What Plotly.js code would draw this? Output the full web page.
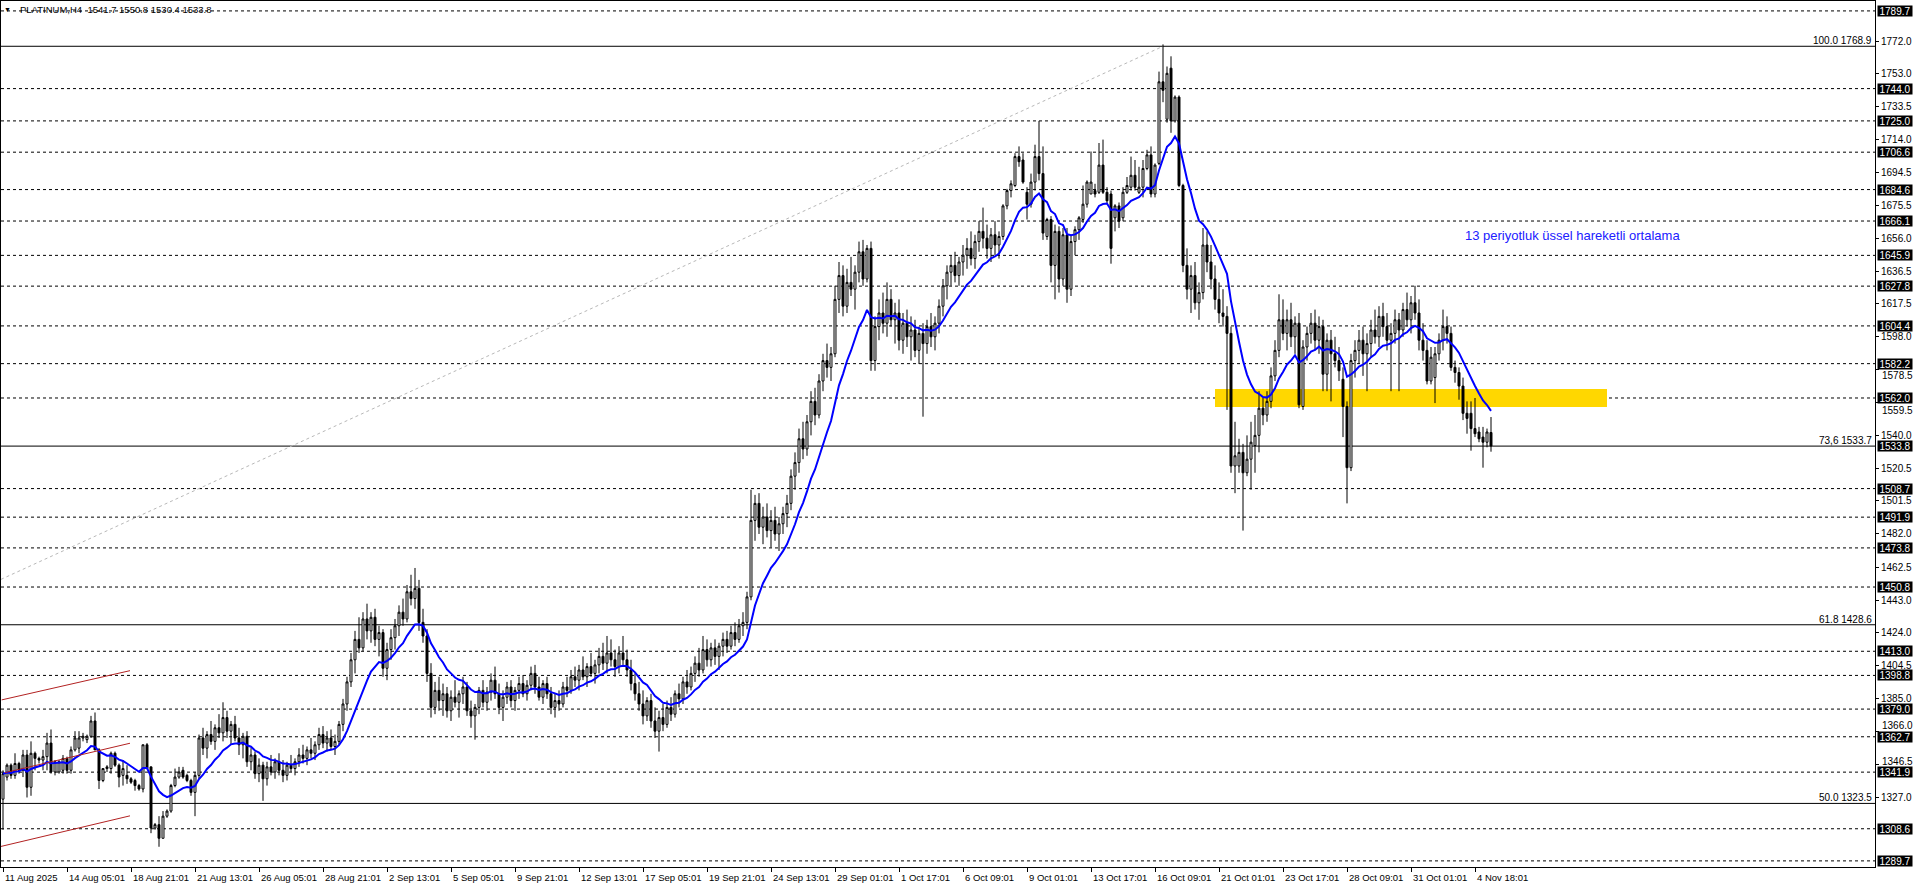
<!DOCTYPE html>
<html><head><meta charset="utf-8">
<script src="https://cdn.plot.ly/plotly-3.0.1.min.js"></script>
<style>html,body{margin:0;padding:0;background:#fff;overflow:hidden}#chart{width:1916px;height:888px}</style>
</head><body><div id="chart"></div>
<script>
// ---- candle data (PLATINUM, H4) ----
const opens=[1326,1339,1346,1340,1347,1343,1352,1333,1353,1350,1349,1351,1359,1342,1342,1343,1350,1343,1355,1356,1362,1361,1363,1372,1355,1337,1344,1344,1353,1346,1340,1340,1338,1337,1334,1332,1358,1345,1309,1311,1303,1316,1319,1334,1339,1343,1340,1337,1330,1340,
1362,1356,1364,1360,1368,1365,1374,1366,1370,1362,1358,1363,1348,1352,1341,1346,1338,1345,1342,1348,1343,1340,1346,1344,1348,1352,1350,1355,1353,1358,1364,1359,1362,1357,1360,1370,1382,1395,1408,1420,1415,1432,1425,1433,1420,1424,1403,1414,1421,1428,
1436,1432,1448,1444,1450,1430,1422,1400,1380,1390,1384,1388,1378,1386,1383,1388,1392,1378,1375,1380,1390,1383,1389,1396,1388,1380,1386,1392,1384,1390,1394,1388,1393,1400,1392,1386,1394,1388,1380,1384,1382,1392,1390,1398,1396,1402,1398,1404,1400,1405,
1410,1406,1412,1408,1404,1412,1408,1402,1394,1388,1382,1375,1384,1372,1366,1374,1370,1380,1376,1388,1385,1395,1392,1400,1406,1402,1414,1408,1415,1410,1416,1420,1416,1424,1420,1428,1430,1445,1490,1500,1486,1492,1484,1490,1482,1488,1494,1500,1516,1524,
1538,1532,1548,1560,1552,1572,1584,1580,1588,1620,1634,1616,1630,1626,1636,1648,1632,1650,1584,1604,1612,1606,1620,1608,1612,1596,1606,1598,1602,1590,1600,1594,1604,1598,1606,1616,1628,1636,1640,1634,1642,1646,1650,1644,1654,1660,1656,1650,1658,1652,
1657,1675,1684,1687,1704,1702,1683,1676,1689,1704,1694,1657,1667,1640,1660,1632,1658,1626,1654,1661,1667,1676,1682,1684,1683,1699,1683,1682,1668,1675,1668,1683,1686,1693,1683,1686,1697,1705,1682,1700,1748,1726,1756,1725,1739,1687,1640,1626,1634,1618,
1624,1652,1642,1632,1620,1612,1610,1600,1522,1522,1530,1518,1526,1534,1540,1556,1552,1560,1575,1590,1608,1600,1608,1598,1606,1557,1592,1600,1606,1596,1604,1576,1596,1588,1584,1573,1557,1521,1584,1590,1596,1588,1594,1602,1598,1610,1604,1596,1600,1608,
1602,1614,1608,1618,1612,1596,1590,1572,1574,1588,1596,1604,1600,1580,1577,1569,1553,1553,1544,1542,1539,1536,1541.7];
const highs=[1343,1347,1347,1353,1348,1355,1355,1360,1354,1351,1355,1365,1367,1349,1349,1352,1351,1357,1366,1366,1365,1364,1375,1377,1356,1344,1346,1354,1354,1347,1349,1346,1339,1338,1335,1358,1359,1345,1312,1316,1319,1320,1335,1344,1345,1345,1341,1338,1342,1364,
1368,1366,1372,1370,1376,1383,1378,1372,1375,1368,1365,1366,1356,1354,1350,1348,1348,1352,1350,1353,1349,1348,1352,1350,1356,1358,1357,1362,1360,1368,1369,1366,1367,1364,1372,1385,1398,1412,1425,1433,1436,1441,1436,1438,1428,1426,1418,1426,1432,1440,
1444,1452,1458,1462,1455,1438,1426,1406,1395,1398,1394,1392,1390,1396,1390,1398,1395,1384,1382,1392,1396,1392,1400,1404,1394,1390,1395,1396,1392,1398,1399,1396,1404,1405,1398,1396,1398,1392,1388,1390,1395,1398,1402,1404,1405,1410,1406,1412,1408,1415,
1418,1422,1420,1414,1416,1422,1414,1408,1400,1395,1390,1386,1388,1380,1378,1382,1384,1386,1390,1394,1398,1402,1404,1410,1415,1422,1420,1418,1420,1418,1424,1425,1428,1430,1432,1436,1448,1508,1505,1506,1498,1500,1496,1498,1492,1498,1505,1520,1530,1544,
1548,1552,1566,1568,1576,1588,1594,1592,1628,1642,1640,1638,1645,1640,1654,1655,1652,1654,1610,1620,1624,1630,1626,1618,1620,1612,1614,1610,1608,1604,1606,1608,1612,1610,1620,1632,1640,1646,1648,1645,1652,1656,1660,1658,1666,1674,1664,1662,1666,1660,
1676,1685,1690,1706,1710,1706,1686,1694,1711,1725,1710,1668,1669,1664,1663,1662,1662,1658,1663,1669,1687,1690,1707,1688,1712,1714,1686,1684,1676,1677,1686,1692,1704,1702,1698,1702,1708,1710,1700,1754,1770,1757,1763,1740,1740,1688,1650,1640,1642,1630,
1662,1660,1652,1640,1630,1626,1616,1604,1548,1538,1535,1540,1548,1552,1566,1562,1566,1580,1596,1623,1620,1614,1618,1610,1612,1596,1604,1612,1614,1610,1608,1600,1602,1598,1592,1580,1560,1588,1596,1602,1604,1600,1608,1614,1616,1618,1612,1606,1614,1612,
1618,1624,1622,1628,1620,1606,1596,1592,1592,1600,1614,1610,1604,1584,1580,1574,1560,1560,1562,1545,1545,1544,1550.8];
const lows=[1308,1337,1338,1338,1341,1339,1327,1328,1343,1347,1343,1343,1341,1340,1341,1341,1341,1341,1354,1353,1360,1359,1362,1355,1332,1336,1342,1341,1345,1333,1334,1335,1335,1331,1331,1330,1344,1306,1308,1298,1303,1315,1318,1333,1338,1338,1336,1328,1316,1338,
1352,1350,1358,1355,1362,1360,1362,1358,1360,1352,1350,1345,1343,1338,1336,1325,1334,1340,1338,1340,1336,1337,1342,1340,1345,1347,1346,1350,1349,1355,1356,1354,1355,1352,1358,1366,1378,1392,1400,1412,1413,1420,1418,1416,1410,1398,1396,1408,1414,1422,
1428,1430,1440,1438,1425,1418,1395,1374,1376,1378,1375,1374,1372,1380,1374,1382,1375,1368,1361,1376,1380,1378,1384,1385,1376,1372,1382,1380,1378,1385,1386,1384,1390,1388,1384,1382,1385,1376,1374,1378,1380,1386,1388,1392,1390,1396,1392,1398,1394,1400,
1402,1400,1404,1398,1400,1405,1398,1390,1384,1378,1370,1372,1368,1362,1354,1366,1368,1372,1374,1380,1382,1388,1390,1395,1398,1400,1404,1404,1405,1402,1410,1412,1414,1416,1418,1422,1426,1443,1478,1482,1476,1480,1474,1478,1472,1482,1486,1496,1508,1518,
1526,1528,1540,1546,1550,1566,1574,1572,1586,1612,1610,1612,1622,1614,1630,1628,1630,1578,1578,1596,1600,1598,1604,1594,1590,1588,1592,1584,1586,1582,1551,1588,1592,1590,1600,1610,1620,1628,1630,1628,1634,1638,1640,1638,1648,1650,1644,1642,1646,1644,
1655,1673,1680,1686,1698,1688,1667,1674,1684,1690,1655,1655,1630,1620,1624,1628,1618,1622,1646,1655,1665,1674,1682,1680,1682,1682,1676,1641,1660,1662,1666,1682,1684,1684,1682,1680,1696,1680,1680,1699,1736,1724,1718,1724,1686,1636,1620,1612,1614,1608,
1620,1636,1626,1614,1606,1604,1555,1518,1506,1518,1484,1516,1508,1518,1530,1546,1548,1556,1572,1586,1596,1590,1592,1588,1556,1555,1584,1594,1590,1588,1566,1566,1560,1580,1572,1539,1500,1519,1574,1582,1575,1566,1586,1594,1592,1598,1590,1566,1594,1566,
1598,1604,1600,1608,1590,1584,1570,1570,1559,1584,1590,1594,1578,1571,1561,1549,1541,1531,1539,1536,1521,1533,1530.4];
const closes=[1341,1346,1340,1347,1343,1352,1333,1353,1350,1349,1351,1359,1342,1348,1348,1350,1343,1355,1362,1362,1363,1363,1372,1355,1337,1344,1345,1353,1346,1339,1344,1338,1336,1334,1332,1358,1344,1309,1311,1303,1316,1319,1334,1339,1342,1339,1337,1330,1340,1362,
1356,1364,1360,1368,1365,1374,1366,1370,1362,1358,1363,1348,1352,1341,1346,1338,1345,1342,1348,1343,1340,1346,1344,1348,1352,1350,1355,1353,1358,1364,1359,1362,1357,1360,1370,1382,1395,1408,1420,1415,1432,1425,1433,1420,1424,1403,1414,1421,1428,1436,
1432,1448,1444,1450,1430,1422,1400,1380,1390,1384,1388,1378,1386,1383,1388,1392,1378,1375,1380,1390,1383,1389,1396,1388,1380,1386,1392,1384,1390,1394,1388,1393,1400,1392,1386,1394,1388,1380,1384,1382,1392,1390,1398,1396,1402,1398,1404,1400,1405,1410,
1406,1412,1408,1404,1412,1408,1402,1394,1388,1382,1375,1384,1372,1366,1374,1370,1380,1376,1388,1385,1395,1392,1400,1406,1402,1414,1408,1415,1410,1416,1420,1416,1424,1420,1428,1430,1445,1490,1500,1486,1492,1484,1490,1482,1488,1494,1500,1516,1524,1538,
1532,1548,1560,1552,1572,1584,1580,1588,1620,1634,1616,1630,1626,1636,1648,1632,1650,1584,1604,1612,1606,1620,1608,1612,1596,1606,1598,1602,1590,1600,1594,1604,1598,1606,1616,1628,1636,1640,1634,1642,1646,1650,1644,1654,1660,1656,1650,1658,1652,1657,
1675,1684,1688,1704,1701,1689,1676,1689,1704,1694,1659,1667,1640,1660,1632,1658,1626,1654,1661,1668,1676,1689,1689,1682,1699,1683,1678,1650,1675,1666,1683,1687,1693,1686,1686,1697,1705,1682,1699,1748,1743,1753,1725,1739,1687,1640,1626,1634,1618,1624,
1652,1642,1632,1620,1612,1610,1600,1522,1528,1530,1518,1526,1536,1540,1556,1552,1560,1575,1590,1608,1600,1608,1598,1606,1558,1592,1600,1606,1596,1604,1576,1596,1588,1584,1578,1557,1521,1584,1590,1596,1588,1594,1602,1598,1610,1604,1596,1600,1608,1602,
1614,1608,1618,1612,1596,1590,1572,1586,1588,1596,1604,1600,1580,1577,1569,1553,1550,1544,1541,1538,1536,1542,1533.8];

const symbolName="PLATINUM,H4";
const emaPeriod=13;
const emaLabel="13 periyotluk üssel hareketli ortalama";

// axis tick labels
const priceTicks=[1772.0,1753.0,1733.5,1714.0,1694.5,1675.5,1656.0,1636.5,1617.5,1598.0,1578.5,1559.5,1540.0,1520.5,1501.5,1482.0,1462.5,1443.0,1424.0,1404.5,1385.0,1366.0,1346.5,1327.0];
// tick labels pushed aside by the price boxes (value -> offset in px)
const crowdedTicks=[1578.5,1559.5,1366.0,1346.5];
const crowdedShift=[-6,-8,6,3];
const dateTickBars=[0,16,32,48,64,80,96,112,128,144,160,176,192,208,224,240,256,272,288,304,320,336,352,368];
const dateTickLabels=["11 Aug 2025","14 Aug 05:01","18 Aug 21:01","21 Aug 13:01","26 Aug 05:01","28 Aug 21:01","2 Sep 13:01","5 Sep 05:01","9 Sep 21:01","12 Sep 13:01","17 Sep 05:01","19 Sep 21:01","24 Sep 13:01","29 Sep 01:01","1 Oct 17:01","6 Oct 09:01","9 Oct 01:01","13 Oct 17:01","16 Oct 09:01","21 Oct 01:01","23 Oct 17:01","28 Oct 09:01","31 Oct 01:01","4 Nov 18:01"];

// horizontal levels (dashed) and their price labels
const levelPrices=[1789.7,1744.0,1725.0,1706.6,1684.6,1666.1,1645.9,1627.8,1604.4,1582.2,1562.0,1508.7,1491.9,1473.8,1450.8,1413.0,1398.8,1379.0,1362.7,1341.9,1308.6,1289.7];
const lastPrice=1533.8;

// Fibonacci levels
const fibPrices=[1768.9,1533.7,1428.6,1323.5];
const fibNames=["100.0","73,6","61.8","50.0"];

// drawn objects (bar index / price)
const fibTrendBars=[-0.5,290];
const fibTrendPrices=[1455.3,1768.9];
const channelBarsStart=[-0.33,0.5,-0.5];
const channelBarsEnd=[31.75,31.75,31.75];
const channelPricesStart=[1384.4,1341.6,1298.2];
const channelPricesEnd=[1401.6,1358.9,1316.2];
const zoneBars=[303,401];
const zonePrices=[1556.7,1567.3];
const emaLabelBar=365, emaLabelPrice=1657.5;

// ---- build ----
const xs=closes.map((_,i)=>i);
const ema=[];
closes.forEach((c,i)=>{ema.push(i===0?c:ema[i-1]+(c-ema[i-1])*2/(emaPeriod+1));});

const FONT='Liberation Sans';
const traces=[
 {type:'candlestick',x:xs,open:opens,high:highs,low:lows,close:closes,
  increasing:{line:{color:'#000',width:1},fillcolor:'#fff'},
  decreasing:{line:{color:'#000',width:1},fillcolor:'#000'},
  whiskerwidth:0,hoverinfo:'skip',showlegend:false},
 {type:'scatter',mode:'lines',x:xs,y:ema,line:{color:'#0000ff',width:2},hoverinfo:'skip',showlegend:false}
];

const shapes=[];
shapes.push({type:'rect',xref:'x',yref:'y',x0:zoneBars[0],x1:zoneBars[1],y0:zonePrices[0],y1:zonePrices[1],fillcolor:'#FFD700',line:{width:0},layer:'below'});
levelPrices.forEach(p=>shapes.push({type:'line',xref:'paper',yref:'y',x0:0,x1:1,y0:p,y1:p,line:{color:'#000',width:1,dash:'3px,3px'},layer:'below'}));
fibPrices.forEach(p=>shapes.push({type:'line',xref:'paper',yref:'y',x0:0,x1:1,y0:p,y1:p,line:{color:'#000',width:1},layer:'below'}));
shapes.push({type:'line',xref:'x',yref:'y',x0:fibTrendBars[0],x1:fibTrendBars[1],y0:fibTrendPrices[0],y1:fibTrendPrices[1],line:{color:'#b8b8b8',width:1,dash:'3px,3px'},layer:'below'});
for(let k=0;k<3;k++){
 shapes.push({type:'line',xref:'x',yref:'y',x0:channelBarsStart[k],x1:channelBarsEnd[k],y0:channelPricesStart[k],y1:channelPricesEnd[k],line:{color:'#b22222',width:1},layer:'above'});
}

const ann=[];
const n=closes.length-1;
ann.push({xref:'paper',yref:'paper',x:0,y:1,xanchor:'left',yanchor:'top',xshift:1,yshift:-3,showarrow:false,text:'▼',font:{family:FONT,size:7,color:'#000'}});
ann.push({xref:'paper',yref:'paper',x:0,y:1,xanchor:'left',yanchor:'top',xshift:17,yshift:-1,showarrow:false,
 text:symbolName+'  '+opens[n].toFixed(1)+' '+highs[n].toFixed(1)+' '+lows[n].toFixed(1)+' '+closes[n].toFixed(1),font:{family:FONT,size:9.5,color:'#000'}});
crowdedTicks.forEach((v,k)=>ann.push({xref:'paper',yref:'y',x:1,y:v,xanchor:'left',yanchor:'middle',xshift:5,yshift:crowdedShift[k],showarrow:false,
 text:v.toFixed(1),font:{family:FONT,size:10,color:'#000'}}));
levelPrices.concat([lastPrice]).forEach(p=>ann.push({xref:'paper',yref:'y',x:1,y:p,xanchor:'left',yanchor:'middle',xshift:2,showarrow:false,
 text:p.toFixed(1),bgcolor:'#000',width:34,height:10,borderpad:0,font:{family:FONT,size:10,color:'#fff'}}));
fibPrices.forEach((p,k)=>ann.push({xref:'paper',yref:'y',x:1,y:p,xanchor:'right',yanchor:'bottom',xshift:-1,yshift:-2,showarrow:false,
 text:fibNames[k]+' '+p.toFixed(1),font:{family:FONT,size:10,color:'#000'}}));
ann.push({xref:'x',yref:'y',x:emaLabelBar,y:emaLabelPrice,xanchor:'left',yanchor:'middle',showarrow:false,text:emaLabel,font:{family:FONT,size:13,color:'#2020ff'}});
dateTickBars.forEach((b,k)=>ann.push({xref:'x',yref:'paper',x:b,y:0,xanchor:'left',yanchor:'top',xshift:0,yshift:-3,showarrow:false,
 text:dateTickLabels[k],font:{family:FONT,size:9.5,color:'#000'}}));

const layout={
 width:1916,height:888,margin:{l:1,r:41,t:1,b:21,pad:0},
 paper_bgcolor:'#fff',plot_bgcolor:'#fff',showlegend:false,dragmode:false,
 xaxis:{range:[-0.5,468],showgrid:false,zeroline:false,showline:true,mirror:true,linecolor:'#000',linewidth:1,
  tickvals:dateTickBars,ticktext:dateTickBars.map(()=>''),ticks:'outside',ticklen:4,tickcolor:'#000',showticklabels:false,
  rangeslider:{visible:false},fixedrange:true},
 yaxis:{range:[1286.1,1795.53],side:'right',showgrid:false,zeroline:false,showline:true,mirror:true,linecolor:'#000',linewidth:1,
  tickvals:priceTicks,ticktext:priceTicks.map(v=>crowdedTicks.includes(v)?'':v.toFixed(1)),ticks:'outside',ticklen:3,tickcolor:'#000',
  tickfont:{family:FONT,size:10,color:'#000'},fixedrange:true},
 shapes:shapes,annotations:ann
};
Plotly.newPlot('chart',traces,layout,{displayModeBar:false,staticPlot:true});
</script></body></html>
